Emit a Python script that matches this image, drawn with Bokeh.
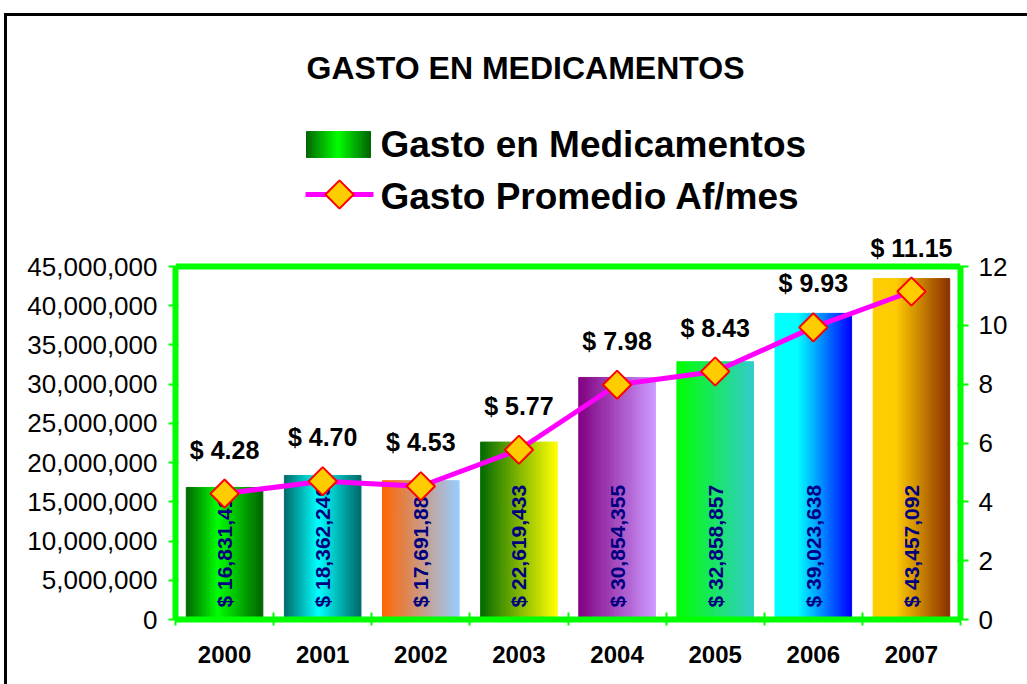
import math
from bokeh.plotting import figure
from bokeh.models import (ColumnDataSource, LinearAxis, Range1d, FixedTicker,
                          NumeralTickFormatter, LabelSet, Label, Span)
from bokeh.core.properties import value
from bokeh.embed import file_html
from bokeh.resources import INLINE

# ---------------- data ----------------
years = ["2000", "2001", "2002", "2003", "2004", "2005", "2006", "2007"]
gasto = [16831414, 18362249, 17691884, 22619433, 30854355, 32858857, 39023638, 43457092]
promedio = [4.28, 4.70, 4.53, 5.77, 7.98, 8.43, 9.93, 11.15]
left_ticks = [0, 5000000, 10000000, 15000000, 20000000, 25000000, 30000000, 35000000, 40000000, 45000000]
right_ticks = [0, 2, 4, 6, 8, 10, 12]
title_text = "GASTO EN MEDICAMENTOS"
legend_bar = "Gasto en Medicamentos"
legend_line = "Gasto Promedio Af/mes"

# ---------------- style ----------------
bar_gradients = [
    [(0.0, "#006400"), (0.42, "#00ff00"), (1.0, "#006400")],
    [(0.0, "#006a6a"), (0.45, "#00ffff"), (1.0, "#006a6a")],
    [(0.0, "#ff6600"), (1.0, "#99ccff")],
    [(0.0, "#006a00"), (1.0, "#ffff00")],
    [(0.0, "#800080"), (1.0, "#cc99ff")],
    [(0.0, "#00ff00"), (1.0, "#33cccc")],
    [(0.0, "#00ffff"), (0.3, "#00ffff"), (1.0, "#0000ff")],
    [(0.0, "#ffcc00"), (0.3, "#ffcc00"), (1.0, "#8b3000")],
]
legend_gradient = [(0.0, "#006400"), (0.5, "#00ff00"), (1.0, "#006400")]
GREEN = "#00ff00"
FONT = "Liberation Sans"
BAR_W = 0.78
NSTRIP = 40

# page-pixel layout
MARGIN_L, MARGIN_T, BORDER = 4, 13, 3
OX, OY = MARGIN_L + BORDER, MARGIN_T + BORDER   # canvas origin on the page
W, H = 1023, 671
FL, FR, FB, FT = 175, 960, 619, 24     # frame edges in page px
Y45 = 266                               # page y of top of value axis

def hex2rgb(h):
    h = h.lstrip("#")
    return tuple(int(h[i:i + 2], 16) for i in (0, 2, 4))

def grad_color(stops, t):
    for (t0, c0), (t1, c1) in zip(stops[:-1], stops[1:]):
        if t <= t1:
            f = 0 if t1 == t0 else (t - t0) / (t1 - t0)
            a, b = hex2rgb(c0), hex2rgb(c1)
            return "#%02x%02x%02x" % tuple(int(round(a[k] + (b[k] - a[k]) * f)) for k in range(3))
    return stops[-1][1]

n = len(years)
y_top = left_ticks[-1] * (FB - FT) / (FB - Y45)
r_top = right_ticks[-1] * (FB - FT) / (FB - Y45)

def dx(px):
    return -0.5 + (px - FL) / (FR - FL) * n

def dy(py):
    return (FB - py) / (FB - Y45) * left_ticks[-1]

p = figure(width=W, height=H, output_backend="svg", toolbar_location=None,
           x_range=Range1d(-0.5, n - 0.5), y_range=Range1d(0, y_top),
           min_border_left=FL - OX, min_border_right=W - (FR - OX),
           min_border_top=FT - OY, min_border_bottom=H - (FB - OY),
           x_axis_location=None, y_axis_location=None)
p.outline_line_color = None
p.xgrid.visible = False
p.ygrid.visible = False
p.background_fill_color = "white"
p.border_fill_color = "white"
p.extra_y_ranges = {"right": Range1d(0, r_top)}

# ---------------- bars as gradient strips ----------------
sl, sr, st, sc = [], [], [], []
for i in range(n):
    for k in range(NSTRIP):
        l = i - BAR_W / 2 + k * BAR_W / NSTRIP
        sl.append(l)
        sr.append(l + BAR_W / NSTRIP)
        st.append(gasto[i])
        sc.append(grad_color(bar_gradients[i], (k + 0.5) / NSTRIP))
p.quad(left=sl, right=sr, bottom=0, top=st, fill_color=sc, line_color=sc, line_width=1)

# ---------------- axes ----------------
ax_l = LinearAxis(ticker=FixedTicker(ticks=left_ticks), formatter=NumeralTickFormatter(format="0,0"),
                  bounds=(0, left_ticks[-1]))
ax_r = LinearAxis(y_range_name="right", ticker=FixedTicker(ticks=right_ticks), bounds=(0, right_ticks[-1]))
ax_b = LinearAxis(ticker=FixedTicker(ticks=list(range(n)), minor_ticks=[i - 0.5 for i in range(n + 1)]),
                  major_label_overrides={i: years[i] for i in range(n)})
for ax in (ax_l, ax_r, ax_b):
    ax.axis_line_color = GREEN
    ax.axis_line_width = 6
    ax.major_tick_line_color = GREEN
    ax.major_tick_line_width = 2
    ax.minor_tick_line_color = None
    ax.major_label_text_font = FONT
    ax.major_label_text_color = "black"
ax_l.major_tick_in, ax_l.major_tick_out = 3, 7
ax_r.major_tick_in, ax_r.major_tick_out = 3, 8
ax_l.major_label_text_font_size = "26px"
ax_r.major_label_text_font_size = "26px"
ax_l.major_label_standoff = 11
ax_r.major_label_standoff = 10
ax_b.major_tick_in, ax_b.major_tick_out = 0, 0
ax_b.minor_tick_line_color = GREEN
ax_b.minor_tick_line_width = 2
ax_b.minor_tick_in, ax_b.minor_tick_out = 7, 6
ax_b.major_label_text_font_size = "24px"
ax_b.major_label_text_font_style = "bold"
ax_b.major_label_standoff = 20
p.add_layout(ax_l, "left")
p.add_layout(ax_r, "right")
p.add_layout(ax_b, "below")
p.add_layout(Span(location=left_ticks[-1], dimension="width", line_color=GREEN, line_width=6))

# ---------------- line series ----------------
ls = p.line(list(range(n)), promedio, y_range_name="right", line_color="#ff00ff", line_width=5)
ms = p.scatter(list(range(n)), promedio, y_range_name="right", marker="square", angle=math.pi / 4,
               size=20, fill_color="#ffcc00", line_color="#ff0000", line_width=2)
ls.level = "overlay"
ms.level = "overlay"

# ---------------- labels ----------------
src = ColumnDataSource(dict(
    x=list(range(n)), g=gasto, pr=promedio, zero=[0] * n,
    gtxt=["$ {:,}".format(v) for v in gasto],
    ptxt=["$ {:.2f}".format(v) for v in promedio]))
p.add_layout(LabelSet(x="x", y="zero", text="gtxt", source=src, angle=math.pi / 2, y_offset=12,
                      text_align="left", text_baseline="middle", text_font=value(FONT),
                      text_font_size=value("21px"), text_font_style="bold", text_color="#000080"))
p.add_layout(LabelSet(x="x", y="pr", text="ptxt", source=src, y_range_name="right", y_offset=44,
                      text_align="center", text_baseline="middle", text_font=value(FONT),
                      text_font_size=value("25px"), text_font_style="bold", text_color="black"))

# ---------------- title ----------------
p.add_layout(Label(x=dx(525), y=dy(67), text=title_text, text_align="center", text_baseline="middle",
                   text_font=FONT, text_font_size="32px", text_font_style="bold", text_color="black"))

# ---------------- legend ----------------
gl, gr, gc = [], [], []
x0, x1 = dx(306), dx(370)
for k in range(NSTRIP):
    l = x0 + (x1 - x0) * k / NSTRIP
    gl.append(l)
    gr.append(l + (x1 - x0) / NSTRIP)
    gc.append(grad_color(legend_gradient, (k + 0.5) / NSTRIP))
p.quad(left=gl, right=gr, bottom=dy(157), top=dy(131), fill_color=gc, line_color=gc, line_width=1)
p.line([dx(305), dx(373)], [dy(194), dy(194)], line_color="#ff00ff", line_width=5)
p.scatter([dx(339)], [dy(194)], marker="square", angle=math.pi / 4, size=20,
          fill_color="#ffcc00", line_color="#ff0000", line_width=2)
p.add_layout(Label(x=dx(380), y=dy(144), text=legend_bar, text_align="left", text_baseline="middle",
                   text_font=FONT, text_font_size="37px", text_font_style="bold", text_color="black"))
p.add_layout(Label(x=dx(380), y=dy(196), text=legend_line, text_align="left", text_baseline="middle",
                   text_font=FONT, text_font_size="37px", text_font_style="bold", text_color="black"))

p.margin = (MARGIN_T, 0, 0, MARGIN_L)
p.styles = {"border-left": "%dpx solid black" % BORDER, "border-top": "%dpx solid black" % BORDER}

open("out.html", "w").write(file_html(p, INLINE))
